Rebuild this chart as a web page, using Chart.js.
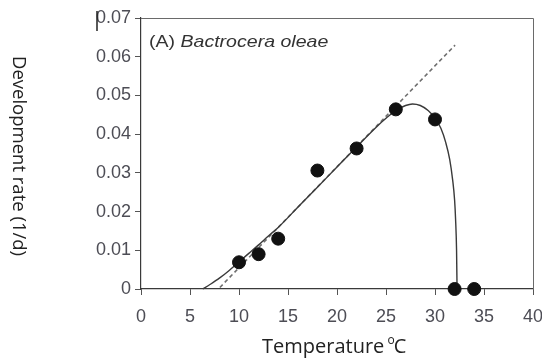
<!DOCTYPE html>
<html>
<head>
<meta charset="utf-8">
<script src="https://cdn.jsdelivr.net/npm/chart.js@4"></script>
<style>
html,body{margin:0;padding:0;background:#fff;}
#wrap{width:542px;height:358px;position:relative;}
</style>
</head>
<body>
<div id="wrap"><canvas id="c" width="542" height="358"></canvas></div>
<script>
// Observed data (temperature °C, development rate 1/d)
const obsTemp = [10, 12, 14, 18, 22, 26, 30, 32, 34];
const obsRate = [0.0069, 0.0090, 0.0130, 0.0306, 0.0363, 0.0464, 0.0438, 0, 0];

// Fitted non-linear curve
const curveTemp = [6.3, 7, 8, 9, 10, 11, 12, 13, 14, 16, 18, 20, 22, 24, 25, 26, 27, 27.7, 28.5, 29.3, 30, 30.6, 31.1, 31.5, 31.8, 32.0, 32.1, 32.2, 32.25];
const curveRate = [0, 0.0011, 0.0028, 0.0048, 0.0070, 0.0092, 0.0114, 0.0137, 0.0159, 0.0211, 0.0263, 0.0315, 0.0367, 0.0418, 0.0441, 0.0461, 0.0474, 0.0478, 0.0474, 0.0461, 0.0441, 0.0415, 0.0378, 0.0335, 0.0282, 0.0230, 0.0180, 0.0100, 0];

// Linear model (dashed)
const linTemp = [8.05, 32.05];
const linRate = [0.0004, 0.0630];

// Axis ticks
const xTicks = [0, 5, 10, 15, 20, 25, 30, 35, 40];
const yTickLabels = ['0', '0.01', '0.02', '0.03', '0.04', '0.05', '0.06', '0.07'];

const panelLabel = '(A) ';
const speciesLabel = 'Bactrocera oleae';
const yTitle = 'Development rate (1/d)';
const xTitleMain = 'Temperature ';
const xTitleSup = 'o';
const xTitleEnd = 'C';

const zip = (a, b) => a.map((v, i) => ({x: v, y: b[i]}));

const tickFont = {family: '"Liberation Sans", Arial, sans-serif', size: 18};
const tickColor = '#4d4d55';

const decor = {
  id: 'decor',
  afterDraw(chart) {
    const {ctx, chartArea: a, scales} = chart;
    ctx.save();
    // top & right frame
    ctx.strokeStyle = '#6a6a6a';
    ctx.lineWidth = 1;
    ctx.beginPath();
    ctx.moveTo(a.left, a.top + 0.5);
    ctx.lineTo(a.right + 0.5, a.top + 0.5);
    ctx.lineTo(a.right + 0.5, a.bottom);
    ctx.stroke();

    // artifact bar on the 0.07 label
    const y07 = scales.y.getPixelForValue(0.07);
    ctx.strokeStyle = '#222';
    ctx.lineWidth = 1.5;
    ctx.beginPath();
    ctx.moveTo(a.left - 44, y07 - 7);
    ctx.lineTo(a.left - 44, y07 + 13);
    ctx.stroke();

    // panel label
    ctx.fillStyle = '#333';
    ctx.textBaseline = 'alphabetic';
    ctx.textAlign = 'left';
    const lx = a.left + 8, ly = a.top + 29;
    ctx.save();
    ctx.translate(lx, ly);
    ctx.scale(1.15, 1);
    ctx.font = '17px "Liberation Sans", Arial, sans-serif';
    ctx.fillText(panelLabel, 0, 0);
    const w1 = ctx.measureText(panelLabel).width;
    ctx.font = 'italic 17px "Liberation Sans", Arial, sans-serif';
    ctx.fillText(speciesLabel, w1, 0);
    ctx.restore();

    // y title rotated clockwise
    ctx.fillStyle = '#222';
    ctx.font = '18.5px "Open Sans", sans-serif';
    ctx.save();
    ctx.translate(13, 156);
    ctx.rotate(Math.PI / 2);
    ctx.textAlign = 'center';
    ctx.fillText(yTitle, 0, 0);
    ctx.restore();

    // x title with superscript
    ctx.font = '20px "Open Sans", sans-serif';
    ctx.textAlign = 'left';
    const tx = 262, ty = 353;
    ctx.fillText(xTitleMain, tx, ty);
    const wm = ctx.measureText(xTitleMain).width;
    ctx.font = '12px "Open Sans", sans-serif';
    ctx.fillText(xTitleSup, tx + wm - 2, ty - 9);
    const ws = ctx.measureText(xTitleSup).width;
    ctx.font = '20px "Open Sans", sans-serif';
    ctx.fillText(xTitleEnd, tx + wm - 2 + ws - 1, ty);
    ctx.restore();
  }
};

new Chart(document.getElementById('c'), {
  type: 'scatter',
  data: {
    datasets: [
      {
        label: 'observed',
        data: zip(obsTemp, obsRate),
        pointRadius: 6.5,
        pointHoverRadius: 6.5,
        pointBackgroundColor: '#111',
        pointBorderColor: '#111',
        showLine: false,
        clip: false,
        order: 0
      },
      {
        type: 'line',
        label: 'linear',
        data: zip(linTemp, linRate),
        borderColor: '#6f6f6f',
        borderWidth: 1.6,
        borderDash: [4, 3],
        pointRadius: 0,
        fill: false,
        order: 2
      },
      {
        type: 'line',
        label: 'nonlinear',
        data: zip(curveTemp, curveRate),
        borderColor: '#3a3a3a',
        borderWidth: 1.4,
        pointRadius: 0,
        tension: 0.4,
        cubicInterpolationMode: 'monotone',
        fill: false,
        clip: false,
        order: 1
      }
    ]
  },
  options: {
    responsive: false,
    animation: false,
    events: [],
    layout: {padding: {top: 18, right: 9, left: 0, bottom: 0}},
    plugins: {legend: {display: false}, tooltip: {enabled: false}},
    scales: {
      x: {
        type: 'linear',
        min: 0, max: 40,
        afterFit(s) { s.height = 69; s.paddingRight = 0; s.paddingLeft = 0; },
        afterBuildTicks(s) { s.ticks = xTicks.map(v => ({value: v})); },
        ticks: {font: tickFont, color: tickColor, padding: 11, maxRotation: 0, autoSkip: false},
        grid: {drawOnChartArea: false, drawTicks: true, tickLength: 6, color: '#555'},
        border: {color: '#3a3a3a', width: 1.2}
      },
      y: {
        type: 'linear',
        min: 0, max: 0.07,
        afterFit(s) { s.width = 141; s.paddingTop = 0; s.paddingBottom = 0; },
        afterBuildTicks(s) { s.ticks = yTickLabels.map((t, i) => ({value: i * 0.01})); },
        ticks: {
          font: tickFont, color: tickColor, padding: 4, autoSkip: false,
          callback: (v, i) => yTickLabels[i]
        },
        grid: {drawOnChartArea: false, drawTicks: true, tickLength: 6, color: '#555'},
        border: {color: '#3a3a3a', width: 1.2}
      }
    }
  },
  plugins: [decor]
});
</script>
</body>
</html>
